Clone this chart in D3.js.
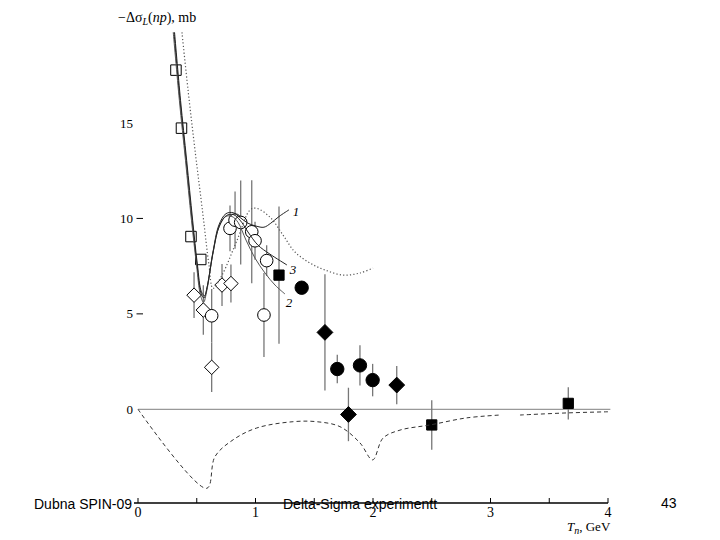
<!DOCTYPE html>
<html>
<head>
<meta charset="utf-8">
<script src="https://cdnjs.cloudflare.com/ajax/libs/d3/7.8.5/d3.min.js"></script>
<style>
  body { margin: 0; background: #fff; }
  svg { display: block; }
  .serif { font-family: "Liberation Serif", "DejaVu Serif", serif; }
  .sans { font-family: "Liberation Sans", Arial, sans-serif; }
</style>
</head>
<body>
<div id="chart"></div>
<script>
var svgWidth = 720;
var svgHeight = 540;

// points: [T_n (GeV), -dSigma_L (mb), error (mb)]
var openSquares = [[0.323, 17.77, 0], [0.370, 14.73, 0], [0.451, 9.05, 0], [0.534, 7.85, 0]];
var openDiamonds = [[0.477, 5.98, 1.2], [0.556, 5.20, 1.3], [0.715, 6.51, 1.1], [0.791, 6.59, 1.0], [0.627, 2.20, 1.3]];
var openCircles = [[0.627, 4.90, 1.4], [0.783, 9.48, 1.2], [0.826, 9.91, 1.5], [0.874, 9.79, 2.2],
                   [0.968, 9.30, 2.7], [0.996, 8.83, 1.0], [1.095, 7.79, 0.8], [1.072, 4.94, 2.2]];
var filledSquares = [[1.200, 7.03, 3.6], [2.500, -0.82, 1.3], [3.662, 0.31, 0.85]];
var filledCircles = [[1.393, 6.37, 0], [1.696, 2.11, 0.75], [1.889, 2.30, 1.05], [1.997, 1.53, 0.85]];
var filledDiamonds = [[1.591, 4.03, 3.05], [2.202, 1.27, 1.0], [1.791, -0.27, 1.4]];

// theory curves: [T_n, value]
var curve1 = [[0.306, 19.75], [0.357, 16.19], [0.409, 13.05], [0.460, 9.91], [0.502, 7.56], [0.536, 6.09],
              [0.562, 5.83], [0.587, 6.35], [0.638, 8.24], [0.689, 9.66], [0.749, 10.25], [0.809, 10.3],
              [0.868, 10.05], [0.936, 9.75], [1.004, 9.6], [1.072, 9.54], [1.130, 9.75], [1.200, 10.1], [1.285, 10.45]];
var curve2 = [[0.300, 19.75], [0.352, 16.19], [0.404, 13.05], [0.455, 9.91], [0.498, 7.56], [0.531, 6.0],
              [0.558, 5.6], [0.585, 6.2], [0.636, 8.1], [0.687, 9.5], [0.747, 10.1], [0.800, 10.1],
              [0.851, 9.8], [0.919, 8.87], [0.996, 7.92], [1.081, 7.14], [1.166, 6.51], [1.251, 6.04]];
var curve3 = [[0.311, 19.75], [0.362, 16.19], [0.414, 13.05], [0.465, 9.91], [0.506, 7.56], [0.540, 6.15],
              [0.566, 5.95], [0.590, 6.45], [0.641, 8.3], [0.692, 9.6], [0.752, 10.15], [0.812, 10.2],
              [0.868, 9.91], [0.936, 9.29], [1.021, 8.6], [1.123, 8.13], [1.268, 7.56]];
var dottedCurve = [[0.374, 19.75], [0.426, 16.72], [0.485, 13.58], [0.553, 10.18], [0.604, 7.56], [0.638, 6.34],
                   [0.715, 7.03], [0.843, 8.86], [0.953, 10.44], [1.004, 10.54], [1.123, 10.07], [1.234, 9.13],
                   [1.336, 8.24], [1.464, 7.66], [1.591, 7.3], [1.745, 7.03], [1.889, 7.14], [2.0, 7.4]];
var dashedCurve = [[0, 0], [0.585, -4.14], [0.655, -2.48], [0.809, -1.6], [1.01, -0.98], [1.319, -0.65],
                   [1.521, -0.65], [1.719, -0.91], [1.889, -1.76], [1.997, -2.65], [2.085, -1.51], [2.23, -1.09],
                   [2.485, -0.82], [2.797, -0.45], [3.081, -0.3], null, [3.251, -0.3], [3.649, -0.19], [4.0, -0.13]];
var curveLabels = [["1", 1.345, 10.37], ["3", 1.319, 7.34], ["2", 1.285, 5.62]];

var xTicks = [0, 0.5, 1, 1.5, 2, 2.5, 3, 3.5, 4];
var xTickLabels = [[0, "0"], [1, "1"], [2, "2"], [3, "3"], [4, "4"]];
var yTickLabels = [[0, "0"], [5, "5"], [10, "10"], [15, "15"]];
var yDashTicks = [5, 10];

var svg = d3.select("#chart")
  .append("svg")
  .attr("width", svgWidth)
  .attr("height", svgHeight);

var xScale = d3.scaleLinear().domain([0, 4]).range([138, 608]);
var yScale = d3.scaleLinear().domain([0, 15]).range([409.3, 123]);

// zero line
svg.append("line")
  .attr("x1", xScale(0)).attr("x2", xScale(4.02))
  .attr("y1", yScale(0)).attr("y2", yScale(0))
  .attr("stroke", "#999").attr("stroke-width", 1.2);

// x axis at the bottom, ticks pointing up
var axisY = 503;
svg.append("line")
  .attr("x1", xScale(0) - 4).attr("x2", xScale(4))
  .attr("y1", axisY).attr("y2", axisY)
  .attr("stroke", "#000").attr("stroke-width", 1.5);

svg.selectAll(".xtick")
  .data(xTicks)
  .enter()
  .append("line")
  .attr("x1", d => xScale(d)).attr("x2", d => xScale(d))
  .attr("y1", axisY).attr("y2", axisY - 5)
  .attr("stroke", "#000").attr("stroke-width", 1);

svg.selectAll(".xlab")
  .data(xTickLabels)
  .enter()
  .append("text")
  .attr("class", "serif")
  .attr("x", d => xScale(d[0]))
  .attr("y", 517)
  .attr("text-anchor", "middle")
  .style("font-size", "14px")
  .text(d => d[1]);

// y labels (no axis line)
svg.selectAll(".ylab")
  .data(yTickLabels)
  .enter()
  .append("text")
  .attr("class", "serif")
  .attr("x", 133)
  .attr("y", d => yScale(d[0]))
  .attr("dy", "0.35em")
  .attr("text-anchor", "end")
  .style("font-size", "13px")
  .text(d => d[1]);

svg.selectAll(".ydash")
  .data(yDashTicks)
  .enter()
  .append("line")
  .attr("x1", 136.5).attr("x2", 143)
  .attr("y1", d => yScale(d)).attr("y2", d => yScale(d))
  .attr("stroke", "#000").attr("stroke-width", 1);

// title
var title = svg.append("text")
  .attr("class", "serif")
  .attr("x", 118).attr("y", 22)
  .style("font-size", "14px");
title.append("tspan").text("\u2212\u0394\u03c3");
title.append("tspan").attr("dy", 3).style("font-size", "10px").style("font-style", "italic").text("L");
title.append("tspan").attr("dy", -3).text("(");
title.append("tspan").style("font-style", "italic").text("np");
title.append("tspan").text("), mb");

// x label
var xLabel = svg.append("text")
  .attr("class", "serif")
  .attr("x", 567).attr("y", 531)
  .style("font-size", "13px");
xLabel.append("tspan").style("font-style", "italic").text("T");
xLabel.append("tspan").attr("dy", 3).style("font-size", "10px").style("font-style", "italic").text("n");
xLabel.append("tspan").attr("dy", -3).text(", GeV");

// error bars
var allPoints = [].concat(openSquares, openDiamonds, openCircles, filledSquares, filledCircles, filledDiamonds);
svg.selectAll(".err")
  .data(allPoints.filter(d => d[2] > 0))
  .enter()
  .append("line")
  .attr("x1", d => xScale(d[0])).attr("x2", d => xScale(d[0]))
  .attr("y1", d => yScale(d[1] - d[2])).attr("y2", d => yScale(d[1] + d[2]))
  .attr("stroke", "#777").attr("stroke-width", 1.3);

// markers
function drawMarkers(data, shape, size, filled) {
  svg.selectAll(null)
    .data(data)
    .enter()
    .append("path")
    .attr("d", d3.symbol().type(shape).size(size))
    .attr("transform", d => `translate(${xScale(d[0])},${yScale(d[1])})`)
    .attr("fill", filled ? "#000" : "#fff")
    .attr("stroke", "#000")
    .attr("stroke-width", 1);
}

var diamond = {
  draw: function(context, size) {
    var r = Math.sqrt(size) / 2;
    context.moveTo(0, -r);
    context.lineTo(r, 0);
    context.lineTo(0, r);
    context.lineTo(-r, 0);
    context.closePath();
  }
};

drawMarkers(openSquares, d3.symbolSquare, 110, false);
drawMarkers(openDiamonds, diamond, 210, false);
drawMarkers(openCircles, d3.symbolCircle, 125, false);
drawMarkers(filledSquares, d3.symbolSquare, 105, true);
drawMarkers(filledCircles, d3.symbolCircle, 140, true);
drawMarkers(filledDiamonds, diamond, 250, true);

// curves (drawn over the open markers, like the scan)
var line = d3.line()
  .defined(d => d !== null)
  .x(d => xScale(d[0]))
  .y(d => yScale(d[1]))
  .curve(d3.curveCatmullRom.alpha(0.5));

svg.append("path").datum(dashedCurve)
  .attr("d", line).attr("fill", "none")
  .attr("stroke", "#333").attr("stroke-width", 1)
  .attr("stroke-dasharray", "4,3");

svg.append("path").datum(dottedCurve)
  .attr("d", line).attr("fill", "none")
  .attr("stroke", "#555").attr("stroke-width", 1.2)
  .attr("stroke-dasharray", "1.2,2.2");

[curve1, curve2, curve3].forEach(function(c, i) {
  svg.append("path").datum(c)
    .attr("d", line).attr("fill", "none")
    .attr("stroke", i == 1 ? "#555" : "#222").attr("stroke-width", 1);
});

svg.selectAll(".clab")
  .data(curveLabels)
  .enter()
  .append("text")
  .attr("class", "serif")
  .attr("x", d => xScale(d[1]))
  .attr("y", d => yScale(d[2]))
  .attr("dy", "0.35em")
  .attr("text-anchor", "middle")
  .style("font-size", "13px")
  .style("font-style", "italic")
  .text(d => d[0]);

// footer
svg.append("text").attr("class", "sans")
  .attr("x", 34).attr("y", 509)
  .style("font-size", "14px")
  .text("Dubna SPIN-09");
svg.append("text").attr("class", "sans")
  .attr("x", 283).attr("y", 509)
  .style("font-size", "14px")
  .text("Delta-Sigma experimentt");
svg.append("text").attr("class", "sans")
  .attr("x", 661).attr("y", 508)
  .style("font-size", "14px")
  .text("43");
</script>
</body>
</html>
